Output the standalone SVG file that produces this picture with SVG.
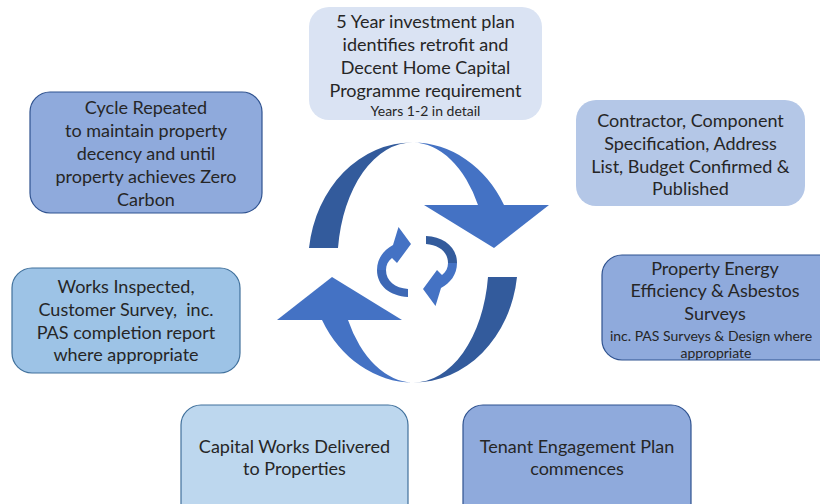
<svg xmlns="http://www.w3.org/2000/svg" width="820" height="504" viewBox="0 0 820 504">
<style>
.t{font-family:Lato,"Liberation Sans",sans-serif;font-size:18px;fill:#262626;text-anchor:middle;dominant-baseline:central;white-space:pre}
.s{font-size:14px}
.dk{fill:#335b9c}
.lt{fill:#4472c4}
.sd{fill:#3d68b5}
</style>
<rect width="820" height="504" fill="#ffffff"/>
<g id="arrows">
  <g id="big-upper">
    <path class="dk" d="M309,248 A104,120 0 0 1 413,142.5 A75,120 0 0 0 338,248 Z"/>
    <path class="lt" d="M413,142.5 A104,120 0 0 1 504,205 L478,205 A75,120 0 0 0 413,142.5 Z"/>
    <polygon class="lt" points="424,205 549,205 494,248"/>
  </g>
  <g id="big-lower" transform="rotate(180 413 262.5)">
    <path class="dk" d="M309,248 A104,120 0 0 1 413,142.5 A75,120 0 0 0 338,248 Z"/>
    <path class="lt" d="M413,142.5 A104,120 0 0 1 504,205 L478,205 A75,120 0 0 0 413,142.5 Z"/>
    <polygon class="lt" points="424,205 549,205 494,248"/>
  </g>
  <g id="small-left">
    <path class="sd" d="M377,270 C377,286 390,296 408,297 L408,289 C395,288 386,281 386,270 Z"/>
    <path class="lt" d="M377,270 C377,258 384,250 393,245 L398.5,227 L411,244 L397,263 L392,258 C388,261 386,265 386,270 Z"/>
  </g>
  <g id="small-right" transform="rotate(180 417 266.5)">
    <path class="dk" d="M377,270 C377,286 390,296 408,297 L408,289 C395,288 386,281 386,270 Z"/>
    <path class="lt" d="M377,270 C377,258 384,250 393,245 L398.5,227 L411,244 L397,263 L392,258 C388,261 386,265 386,270 Z"/>
  </g>
</g>
<g id="n1">
  <rect x="309" y="7" width="233" height="113" rx="20" fill="#dae3f3"/>
  <text class="t" x="425.5" y="21">5 Year investment plan</text>
  <text class="t" x="425.5" y="44">identifies retrofit and</text>
  <text class="t" x="425.5" y="67">Decent Home Capital</text>
  <text class="t" x="425.5" y="90">Programme requirement</text>
  <text class="t s" x="425.5" y="110">Years 1-2 in detail</text>
</g>
<g id="n2">
  <rect x="576" y="100" width="229" height="106" rx="20" fill="#b4c7e7"/>
  <text class="t" x="690.5" y="120">Contractor, Component</text>
  <text class="t" x="690.5" y="143">Specification, Address</text>
  <text class="t" x="690.5" y="166">List, Budget Confirmed &amp;</text>
  <text class="t" x="690.5" y="188">Published</text>
</g>
<g id="n3">
  <rect x="602" y="255" width="240" height="105" rx="20" fill="#8faadc" stroke="#2f528f" stroke-width="1.2"/>
  <text class="t" x="715" y="268">Property Energy</text>
  <text class="t" x="715" y="290">Efficiency &amp; Asbestos</text>
  <text class="t" x="715" y="313">Surveys</text>
  <text class="t s" x="711" y="335">inc. PAS Surveys &amp; Design where</text>
  <text class="t s" x="716" y="352">appropriate</text>
</g>
<g id="n4">
  <rect x="463" y="405" width="228" height="120" rx="20" fill="#8faadc" stroke="#2f528f" stroke-width="1.2"/>
  <text class="t" x="577" y="446">Tenant Engagement Plan</text>
  <text class="t" x="577" y="468">commences</text>
</g>
<g id="n5">
  <rect x="181" y="405" width="227" height="120" rx="20" fill="#bdd7ee" stroke="#41719c" stroke-width="1.2"/>
  <text class="t" x="294.5" y="446">Capital Works Delivered</text>
  <text class="t" x="294.5" y="468">to Properties</text>
</g>
<g id="n6">
  <rect x="12" y="268" width="228" height="105" rx="20" fill="#9dc3e6" stroke="#41719c" stroke-width="1.2"/>
  <text class="t" x="126" y="286">Works Inspected,</text>
  <text class="t" x="126" y="309">Customer Survey,  inc.</text>
  <text class="t" x="126" y="332">PAS completion report</text>
  <text class="t" x="126" y="354">where appropriate</text>
</g>
<g id="n7">
  <rect x="30" y="92" width="232" height="121" rx="20" fill="#8faadc" stroke="#2f528f" stroke-width="1.2"/>
  <text class="t" x="146" y="107">Cycle Repeated</text>
  <text class="t" x="146" y="130">to maintain property</text>
  <text class="t" x="146" y="153">decency and until</text>
  <text class="t" x="146" y="176">property achieves Zero</text>
  <text class="t" x="146" y="199">Carbon</text>
</g>
</svg>
